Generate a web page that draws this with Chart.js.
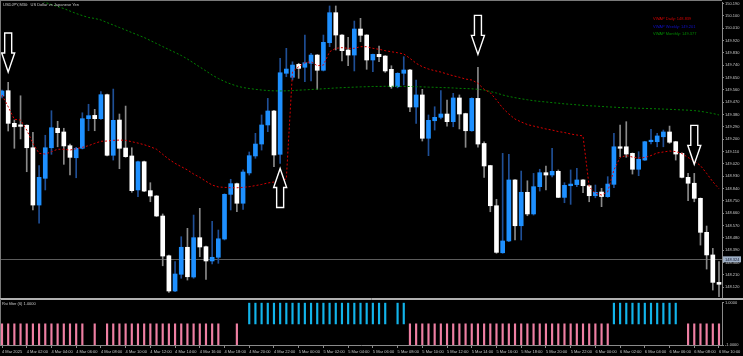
<!DOCTYPE html>
<html><head><meta charset="utf-8">
<script src="https://cdn.jsdelivr.net/npm/chart.js@4.4.1/dist/chart.umd.min.js"></script>
<style>
html,body{margin:0;padding:0;background:#000;overflow:hidden;}
#wrap{position:relative;width:743px;height:356px;background:#000;}
canvas{position:absolute;left:0;}
#c1{top:0;} #c2{top:299px;}
</style></head><body>
<div id="wrap"><canvas id="c1" width="743" height="299"></canvas><canvas id="c2" width="743" height="57"></canvas></div>
<script>
// ---------- DATA (USDJPY M30, 4 Mar 00:00 .. 6 Mar 10:00) ----------
const openP = [149.515,149.554,149.316,149.304,149.302,149.138,148.720,148.915,149.138,149.280,
149.253,149.153,149.065,149.134,149.350,149.374,149.350,149.525,149.083,149.340,
149.136,149.078,148.830,149.036,148.825,148.786,148.640,148.350,148.093,148.215,
148.412,148.195,148.482,148.416,148.312,148.339,148.472,148.798,148.876,148.733,
148.954,149.078,149.165,149.304,149.406,149.090,149.681,149.652,149.746,149.725,
149.754,149.814,149.703,149.904,150.123,149.960,149.851,149.814,150.004,149.960,
149.778,149.819,149.807,149.710,149.583,149.681,149.705,149.435,149.523,149.207,
149.335,149.360,149.384,149.328,149.501,149.387,149.262,149.498,149.169,149.008,
148.715,148.372,148.458,148.903,148.569,148.813,148.655,148.854,148.956,148.939,
148.966,148.776,148.861,148.869,148.903,148.861,148.788,148.815,148.781,148.871,
149.145,149.145,149.097,148.981,149.048,149.182,149.182,149.218,149.253,149.182,
149.097,148.922,148.879,148.769,148.521,148.356,148.156];
const highP = [149.559,149.615,149.340,149.517,149.305,149.250,149.007,149.229,149.408,149.331,
149.280,149.165,149.141,149.393,149.455,149.418,149.547,149.530,149.566,149.384,
149.442,149.138,149.040,149.040,148.883,148.790,148.655,148.355,148.307,148.489,
148.550,148.647,148.696,148.420,148.601,148.538,148.802,148.908,148.880,148.976,
149.107,149.243,149.377,149.498,149.410,149.790,149.863,149.765,149.754,149.960,
149.827,149.818,149.960,150.172,150.172,149.963,149.943,150.062,150.082,149.963,
149.822,149.880,149.810,149.736,149.685,149.802,149.710,149.632,149.564,149.377,
149.437,149.554,149.486,149.535,149.523,149.390,149.502,149.725,149.182,149.010,
148.762,149.097,149.090,148.906,148.968,148.897,148.951,148.981,149.005,149.134,
148.976,148.883,148.976,148.988,148.906,148.866,148.866,148.842,148.927,149.243,
149.304,149.328,149.100,149.109,149.185,149.272,149.243,149.267,149.296,149.185,
149.100,148.951,148.951,148.772,148.567,148.404,148.307];
const lowP = [149.501,149.260,149.134,149.202,148.963,148.684,148.587,148.830,149.090,149.145,
149.017,148.939,148.919,149.129,149.262,149.262,149.345,149.078,149.048,148.985,
149.068,148.813,148.781,148.818,148.744,148.636,148.277,148.083,148.088,148.186,
148.173,148.186,148.343,148.178,148.290,148.295,148.465,148.684,148.671,148.689,
148.939,149.061,149.121,149.255,148.999,149.024,149.656,149.632,149.644,149.620,
149.625,149.564,149.698,149.875,149.851,149.771,149.736,149.698,149.911,149.710,
149.693,149.765,149.688,149.571,149.575,149.596,149.401,149.316,149.187,149.080,
149.267,149.348,149.296,149.291,149.275,149.141,149.258,149.143,148.922,148.671,
148.368,148.368,148.453,148.465,148.465,148.642,148.647,148.822,148.830,148.925,
148.774,148.737,148.725,148.854,148.810,148.744,148.773,148.708,148.776,148.846,
149.073,149.068,148.946,148.934,149.045,149.165,149.145,149.145,149.170,149.048,
148.918,148.752,148.744,148.428,148.253,148.100,148.051];
const closeP = [149.552,149.316,149.291,149.294,149.138,148.720,148.922,149.138,149.284,149.248,
149.151,149.068,149.134,149.350,149.372,149.350,149.525,149.083,149.338,149.134,
149.073,148.825,149.036,148.822,148.786,148.640,148.348,148.093,148.217,148.412,
148.197,148.482,148.414,148.312,148.339,148.474,148.798,148.876,148.733,148.961,
149.080,149.165,149.304,149.406,149.085,149.685,149.712,149.741,149.717,149.758,
149.814,149.703,149.907,150.123,149.960,149.846,149.814,150.004,149.958,149.778,
149.819,149.802,149.698,149.583,149.681,149.705,149.435,149.523,149.207,149.338,
149.360,149.384,149.328,149.501,149.384,149.262,149.498,149.165,149.005,148.715,
148.375,148.458,148.903,148.569,148.813,148.655,148.854,148.956,148.939,148.966,
148.776,148.864,148.873,148.903,148.861,148.788,148.813,148.782,148.873,149.145,
149.134,149.092,148.981,149.054,149.182,149.189,149.224,149.253,149.178,149.092,
148.922,148.879,148.769,148.521,148.356,148.156,148.142];

const vwapDaily = [149.523,149.437,149.345,149.340,149.267,149.170,149.097,149.092,149.109,149.127,
149.127,149.121,149.131,149.141,149.153,149.170,149.185,149.187,149.192,149.194,
149.192,149.182,149.172,149.160,149.145,149.127,149.090,149.054,149.024,149.000,
148.976,148.946,148.922,148.893,148.866,148.852,148.849,148.846,148.846,148.849,
148.854,148.862,148.870,148.881,148.888,148.899,148.910,
149.693,149.729,149.758,149.765,149.736,149.741,149.838,149.863,149.868,149.863,
149.863,149.875,149.875,149.863,149.856,149.846,149.838,149.831,149.822,149.790,
149.754,149.729,149.712,149.700,149.690,149.676,149.663,149.652,149.639,149.632,
149.608,149.564,149.539,149.486,149.428,149.384,149.347,149.326,149.307,149.296,
149.286,149.275,149.267,149.256,149.249,149.238,149.231,149.224,
148.854,148.806,148.793,148.817,148.976,149.067,149.081,149.070,149.063,149.067,
149.081,149.100,149.107,149.114,149.110,149.096,149.067,149.041,149.008,148.951,
148.890,148.839];

const vwapMonthly = [null,null,null,null,null,null,
150.216,150.197,150.183,150.168,150.153,150.135,150.117,150.102,150.088,150.081,
150.070,150.051,150.033,150.015,149.997,149.978,149.960,149.942,149.920,149.898,
149.876,149.854,149.833,149.811,149.785,149.756,149.727,149.698,149.668,149.643,
149.621,149.603,149.588,149.577,149.570,149.564,149.559,149.555,149.553,149.552,
149.553,149.555,149.558,149.560,149.563,149.565,149.568,149.571,149.574,149.576,
149.578,149.580,149.582,149.583,149.585,149.585,149.586,149.586,149.586,149.585,
149.585,149.583,149.582,149.580,149.579,149.577,149.576,149.574,149.571,149.570,
149.568,149.564,149.559,149.548,149.537,149.523,149.512,149.503,149.495,149.488,
149.481,149.476,149.472,149.467,149.463,149.458,149.455,149.451,149.447,149.444,
149.442,149.439,149.436,149.434,149.431,149.430,149.428,149.426,149.425,149.423,
149.422,149.420,149.418,149.416,149.414,149.412,149.409,149.404,149.396,149.388,
149.377];

// RSI filter state per candle: 1 = up (blue), -1 = down (pink), 0 = none
const rsiFilter = [-1,-1,-1,-1,-1,-1,-1,-1,-1,-1,-1,-1,-1,-1,0,-1,0,
-1,-1,-1,-1,-1,-1,-1,-1,-1,-1,-1,-1,-1,-1,-1,-1,-1,-1,-1,0,0,-1,0,
1,1,1,1,1,1,1,1,1,1,1,1,1,1,1,1,1,1,1,1,1,1,1,0,1,1,
-1,-1,-1,-1,-1,-1,-1,-1,-1,-1,-1,-1,-1,-1,-1,-1,-1,-1,-1,-1,-1,-1,-1,-1,-1,-1,-1,-1,-1,-1,-1,-1,-1,
1,1,1,1,1,1,1,1,1,1,1,0,-1,-1,-1,-1,-1,-1];

const timeLabels = ["4 Mar 2025","4 Mar 02:00","4 Mar 04:00","4 Mar 06:00","4 Mar 08:00","4 Mar 10:00",
"4 Mar 12:00","4 Mar 14:00","4 Mar 16:00","4 Mar 18:00","4 Mar 20:00","4 Mar 22:00",
"5 Mar 00:00","5 Mar 02:00","5 Mar 04:00","5 Mar 06:00","5 Mar 08:00","5 Mar 10:00",
"5 Mar 12:00","5 Mar 14:00","5 Mar 16:00","5 Mar 18:00","5 Mar 20:00","5 Mar 22:00",
"6 Mar 00:00","6 Mar 02:00","6 Mar 04:00","6 Mar 06:00","6 Mar 08:00","6 Mar 10:00"];
const candlesPerLabel = 4;

const priceTicks = [150.190,150.100,150.010,149.920,149.830,149.740,149.650,149.560,149.470,149.380,
149.290,149.200,149.110,149.020,148.930,148.840,148.750,148.660,148.570,148.480,148.390,148.300,148.210,148.120];
const subTicks = [1, -1];

const arrowIdx = [1, 45, 77, 112];
const arrowTip = [149.690, 148.987, 149.819, 149.017];
const arrowDir = ["down", "up", "down", "down"];

const lastPrice = 148.324;
const chartTitle = "USDJPY,M30:  US Dollar vs Japanese Yen";
const legendTexts = ["VWAP Daily: 148.839", "VWAP Weekly: 149.201", "VWAP Monthly: 149.377"];
const subTitle = "Rsi filter (6) 1.0000";

// ---------- STYLE ----------
const FONT = "Liberation Sans";
const TXT = "#c8c8c8";
const BULL = "#1e90ff", BEAR = "#ffffff";
const BULL_WICK = "#1f4f96", BEAR_WICK = "#8a8a8a";
const legendColors = ["#d00000", "#1010c8", "#008a00"];

Chart.defaults.font.family = FONT;
Chart.defaults.font.size = 4;
Chart.defaults.color = TXT;

const N = openP.length;
const idx = Array.from({length: N}, (_, i) => i);
const isBull = idx.map(i => closeP[i] >= openP[i]);
const xRange = {type: "linear", min: -0.3236, max: 116.486, offset: false, grid: {offset: false}};

function drawArrow(ctx, x, yTip, dir) {
  const H = 39, HH = 19, W = 13, S = 7;
  const s = dir === "down" ? -1 : 1;
  ctx.beginPath();
  ctx.moveTo(x, yTip);
  ctx.lineTo(x + W / 2, yTip + s * HH);
  ctx.lineTo(x + S / 2, yTip + s * HH);
  ctx.lineTo(x + S / 2, yTip + s * H);
  ctx.lineTo(x - S / 2, yTip + s * H);
  ctx.lineTo(x - S / 2, yTip + s * HH);
  ctx.lineTo(x - W / 2, yTip + s * HH);
  ctx.closePath();
  ctx.fillStyle = "#000";
  ctx.fill();
  ctx.strokeStyle = "#ffffff";
  ctx.lineWidth = 1.4;
  ctx.stroke();
}

const mainDeco = {
  id: "mainDeco",
  beforeDatasetsDraw(chart) {
    const {ctx, chartArea: a, scales: {y}} = chart;
    const py = Math.round(y.getPixelForValue(lastPrice)) + 0.5;
    ctx.save();
    ctx.strokeStyle = "#5c5c5c"; ctx.lineWidth = 1;
    ctx.beginPath(); ctx.moveTo(a.left, py); ctx.lineTo(a.right, py); ctx.stroke();
    ctx.restore();
  },
  afterDraw(chart) {
    const {ctx, chartArea: a, scales: {x, y}} = chart;
    ctx.save();
    for (let k = 0; k < arrowIdx.length; k++) {
      drawArrow(ctx, x.getPixelForValue(arrowIdx[k]), y.getPixelForValue(arrowTip[k]), arrowDir[k]);
    }
    ctx.strokeStyle = "#7a7a7a"; ctx.lineWidth = 1;
    ctx.beginPath();
    ctx.moveTo(0, 0.5); ctx.lineTo(a.right, 0.5);
    ctx.moveTo(0.5, 0); ctx.lineTo(0.5, chart.height);
    ctx.stroke();
    ctx.strokeStyle = "#b0b0b0";
    ctx.beginPath(); ctx.moveTo(0, chart.height - 0.5); ctx.lineTo(chart.width, chart.height - 0.5); ctx.stroke();
    ctx.font = "4px '" + FONT + "'";
    ctx.textBaseline = "middle"; ctx.textAlign = "left";
    ctx.fillStyle = TXT;
    ctx.fillText(chartTitle, 3, 4.5);
    const ly = [19.3, 26.7, 34];
    legendTexts.forEach((t, k) => { ctx.fillStyle = legendColors[k]; ctx.fillText(t, 653, ly[k]); });
    const py = y.getPixelForValue(lastPrice);
    ctx.fillStyle = "#9fb0c6";
    ctx.fillRect(a.right + 1, py - 3, 18, 6);
    ctx.fillStyle = "#10142a";
    ctx.fillText(lastPrice.toFixed(3), a.right + 3, py + 0.3);
    ctx.restore();
  }
};

new Chart(document.getElementById("c1"), {
  type: "bar",
  data: {
    datasets: [
      {type: "line", data: idx.map(i => ({x: i, y: vwapDaily[i]})), borderColor: "#d80000", borderWidth: 1,
       borderDash: [2, 2], pointRadius: 0, tension: 0, order: 1},
      {type: "line", data: idx.map(i => ({x: i, y: vwapMonthly[i]})), borderColor: "#008000", borderWidth: 1,
       borderDash: [2, 2], pointRadius: 0, tension: 0, order: 1},
      {type: "bar", data: idx.map(i => ({x: i, y: [openP[i], closeP[i]]})),
       backgroundColor: idx.map(i => isBull[i] ? BULL : BEAR), borderWidth: 0,
       barThickness: 4, grouped: false, minBarLength: 1.5, order: 2},
      {type: "bar", data: idx.map(i => ({x: i, y: [lowP[i], highP[i]]})),
       backgroundColor: idx.map(i => isBull[i] ? BULL_WICK : BEAR_WICK), borderWidth: 0,
       barThickness: 1, grouped: false, minBarLength: 1, order: 3}
    ]
  },
  options: {
    responsive: false, animation: false, devicePixelRatio: 1,
    layout: {padding: {top: 2, bottom: 1, left: 0, right: 0}},
    plugins: {legend: {display: false}, tooltip: {enabled: false}},
    scales: {
      x: Object.assign({}, xRange, {display: false}),
      y: {
        position: "right", min: 148.042, max: 150.201,
        afterBuildTicks: s => { s.ticks = priceTicks.map(v => ({value: v})); },
        afterFit: s => { s.width = 21; s.paddingTop = 0; s.paddingBottom = 0; },
        ticks: {callback: v => Number(v).toFixed(3), padding: 1, color: TXT, font: {size: 4}, autoSkip: false},
        grid: {drawOnChartArea: false, drawTicks: true, tickLength: 2, color: "#8a8a8a"},
        border: {display: true, color: "#8a8a8a"}
      }
    }
  },
  plugins: [mainDeco]
});

// ---------- sub window ----------
const subIdx = idx.filter(i => rsiFilter[i] !== 0);
const subDeco = {
  id: "subDeco",
  afterDraw(chart) {
    const {ctx, chartArea: a} = chart;
    ctx.save();
    ctx.strokeStyle = "#b0b0b0"; ctx.lineWidth = 1;
    ctx.beginPath(); ctx.moveTo(0, 0.5); ctx.lineTo(chart.width, 0.5); ctx.stroke();
    ctx.strokeStyle = "#7a7a7a";
    ctx.beginPath(); ctx.moveTo(0.5, 0); ctx.lineTo(0.5, a.bottom); ctx.stroke();
    ctx.font = "4px '" + FONT + "'";
    ctx.textBaseline = "middle"; ctx.textAlign = "left"; ctx.fillStyle = TXT;
    ctx.fillText(subTitle, 2, 5.3);
    ctx.restore();
  }
};

new Chart(document.getElementById("c2"), {
  type: "bar",
  data: {
    datasets: [{
      data: subIdx.map(i => ({x: i, y: rsiFilter[i] > 0 ? [0, 1] : [-1, 0]})),
      backgroundColor: subIdx.map(i => rsiFilter[i] > 0 ? "#12b4ea" : "#ee7fa3"),
      borderWidth: 0, barThickness: 1.5, grouped: false
    }]
  },
  options: {
    responsive: false, animation: false, devicePixelRatio: 1,
    layout: {padding: {top: 3.7, bottom: 0, left: 0, right: 0}},
    plugins: {legend: {display: false}, tooltip: {enabled: false}},
    scales: {
      x: Object.assign({}, xRange, {
        position: "bottom",
        afterBuildTicks: s => { s.ticks = timeLabels.map((_, k) => ({value: k * candlesPerLabel})); },
        afterFit: s => { s.height = 11; s.paddingLeft = 0; s.paddingRight = 0; },
        ticks: {callback: (v, k) => timeLabels[k], align: "start", maxRotation: 0, minRotation: 0,
                autoSkip: false, padding: 1, color: TXT, font: {size: 4}},
        grid: {display: true, drawOnChartArea: false, drawTicks: true, tickLength: 3, color: "#8a8a8a", offset: false},
        border: {display: true, color: "#8a8a8a"}
      }),
      y: {
        position: "right", min: -1, max: 1,
        afterBuildTicks: s => { s.ticks = subTicks.map(v => ({value: v})); },
        afterFit: s => { s.width = 21; s.paddingTop = 0; s.paddingBottom = 0; },
        ticks: {callback: v => Number(v).toFixed(4), padding: 1, color: TXT, font: {size: 4}},
        grid: {drawOnChartArea: false, drawTicks: true, tickLength: 2, color: "#8a8a8a"},
        border: {display: true, color: "#8a8a8a"}
      }
    }
  },
  plugins: [subDeco]
});
</script>
</body></html>
